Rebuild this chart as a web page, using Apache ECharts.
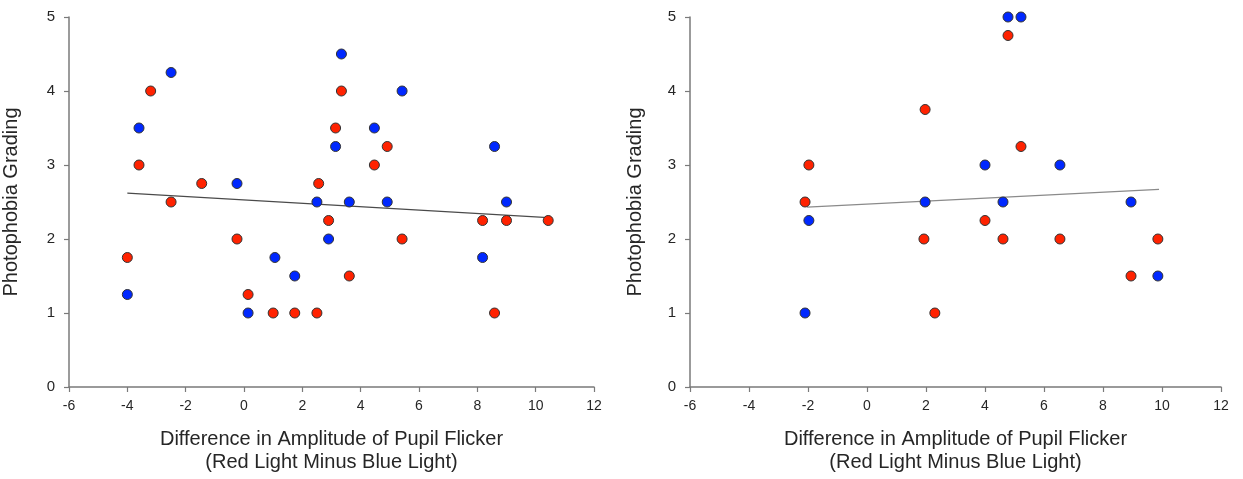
<!DOCTYPE html>
<html>
<head>
<meta charset="utf-8">
<script src="https://cdn.jsdelivr.net/npm/echarts@6/dist/echarts.min.js"></script>
<style>
  html, body { margin: 0; padding: 0; background: #fff; }
  #chart { width: 1243px; height: 479px; }
</style>
</head>
<body>
<div id="chart"></div>
<script>
// Panel A: red- and blue-light responses
const leftRed = [
  [-3.2, 4], [-3.6, 3], [-1.45, 2.75], [-2.5, 2.5], [-0.24, 2], [-4, 1.75],
  [0.14, 1.25], [1, 1], [1.74, 1], [2.5, 1], [3.34, 4], [3.14, 3.5],
  [4.91, 3.25], [4.47, 3], [2.56, 2.75], [2.9, 2.25], [8.18, 2.25], [9, 2.25],
  [10.43, 2.25], [5.42, 2], [3.61, 1.5], [8.59, 1]
];
const leftBlue = [
  [-2.5, 4.25], [-3.6, 3.5], [-0.24, 2.75], [-4, 1.25], [1.06, 1.75], [1.74, 1.5],
  [0.14, 1], [2.5, 2.5], [3.34, 4.5], [5.42, 4], [4.47, 3.5], [3.14, 3.25],
  [8.59, 3.25], [3.61, 2.5], [4.91, 2.5], [9, 2.5], [2.9, 2], [8.18, 1.75]
];
const leftFit = [[-4, 2.62], [10.43, 2.29]];

// Panel B
const rightRed = [
  [1.97, 3.75], [-1.97, 3], [4.78, 4.75], [5.22, 3.25], [-2.1, 2.5], [1.93, 2],
  [2.3, 1], [4.0, 2.25], [4.61, 2], [6.54, 2], [9.86, 2], [8.95, 1.5]
];
const rightBlue = [
  [4.78, 5], [5.22, 5], [4.0, 3], [6.54, 3], [-1.97, 2.25], [-2.1, 1],
  [1.97, 2.5], [4.61, 2.5], [8.95, 2.5], [9.86, 1.5]
];
const rightFit = [[-2.03, 2.43], [9.9, 2.67]];

const xTicks = { min: -6, max: 12, interval: 2 };
const yTicks = { min: 0, max: 5, interval: 1 };
const xTitle = 'Difference in Amplitude of Pupil Flicker\n(Red Light Minus Blue Light)';
const yTitle = 'Photophobia Grading';

const FONT = '"Liberation Sans", Arial, Helvetica, sans-serif';
const AXIS_COLOR = '#7a7a7a';
const TEXT_COLOR = '#262626';
const RED = '#ff2200';
const BLUE = '#0028ff';

function xAxisFor(idx) {
  return {
    type: 'value', gridIndex: idx,
    min: xTicks.min, max: xTicks.max, interval: xTicks.interval,
    name: xTitle, nameLocation: 'middle', nameGap: 41,
    nameTextStyle: { fontFamily: FONT, fontSize: 20, color: TEXT_COLOR, lineHeight: 23 },
    axisLine: { show: true, onZero: false, lineStyle: { color: AXIS_COLOR, width: 1.5 } },
    axisTick: { show: true, inside: false, length: 5, lineStyle: { color: AXIS_COLOR, width: 1.2 } },
    axisLabel: { fontFamily: FONT, fontSize: 14, color: TEXT_COLOR, margin: 12 },
    splitLine: { show: false }
  };
}
function yAxisFor(idx, gap) {
  return {
    type: 'value', gridIndex: idx,
    min: yTicks.min, max: yTicks.max, interval: yTicks.interval,
    name: yTitle, nameLocation: 'middle', nameGap: gap, nameRotate: 90,
    nameTextStyle: { fontFamily: FONT, fontSize: 20, color: TEXT_COLOR },
    axisLine: { show: true, onZero: false, lineStyle: { color: AXIS_COLOR, width: 1.5 } },
    axisTick: { show: true, inside: false, length: 5, lineStyle: { color: AXIS_COLOR, width: 1.2 } },
    axisLabel: { fontFamily: FONT, fontSize: 15, color: TEXT_COLOR, margin: 14 },
    splitLine: { show: false }
  };
}
function dots(data, color, idx) {
  return {
    type: 'scatter', xAxisIndex: idx, yAxisIndex: idx, data: data,
    symbol: 'circle', symbolSize: 10, z: 3,
    itemStyle: { color: color, opacity: 1, borderColor: '#333333', borderWidth: 1 }
  };
}
function fit(data, color, idx) {
  return {
    type: 'line', xAxisIndex: idx, yAxisIndex: idx, data: data,
    symbol: 'none', z: 2, silent: true,
    lineStyle: { color: color, width: 1.3 }
  };
}

const chart = echarts.init(document.getElementById('chart'), null, { renderer: 'canvas' });
chart.setOption({
  backgroundColor: '#ffffff',
  animation: false,
  grid: [
    { left: 66, top: 17, width: 528, height: 372 },
    { left: 690, top: 17, width: 531, height: 372 }
  ],
  xAxis: [xAxisFor(0), xAxisFor(1)],
  yAxis: [yAxisFor(0, 48), yAxisFor(1, 45)],
  series: [
    fit(leftFit, '#4a4a4a', 0),
    dots(leftRed, RED, 0),
    dots(leftBlue, BLUE, 0),
    fit(rightFit, '#8a8a8a', 1),
    dots(rightRed, RED, 1),
    dots(rightBlue, BLUE, 1)
  ]
});
</script>
</body>
</html>
